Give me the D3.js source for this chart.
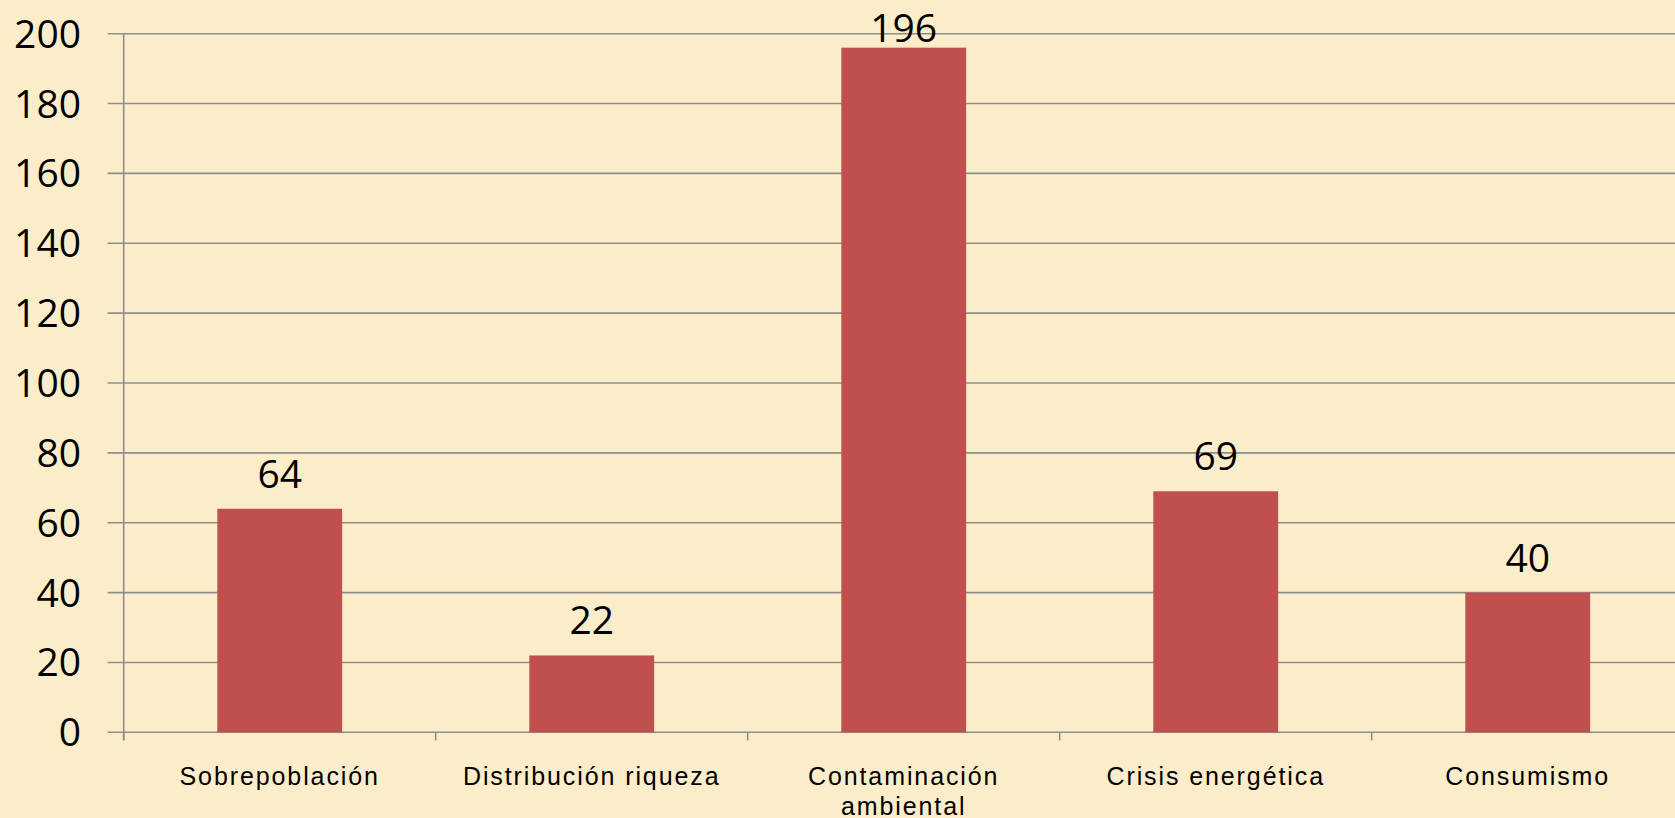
<!DOCTYPE html>
<html>
<head>
<meta charset="utf-8">
<script src="https://cdn.jsdelivr.net/npm/d3@7"></script>
<style>
  html, body { margin: 0; padding: 0; background: #fcedca; }
  svg { display: block; }
  .ytick { font-family: "Open Sans", sans-serif; font-size: 39px; fill: #000; }
  .vlabel { font-family: "Open Sans", sans-serif; font-size: 39px; fill: #000; }
  .xlabel { font-family: "Liberation Sans", Arial, sans-serif; font-size: 25px; letter-spacing: 1.9px; fill: #000; }
</style>
</head>
<body>
<svg id="chart" width="1675" height="818"></svg>
<script>
// chart values
const categories = ["Sobrepoblación", "Distribución riqueza", "Contaminación ambiental", "Crisis energética", "Consumismo"]
const values = [64, 22, 196, 69, 40]
const yTicks = [0, 20, 40, 60, 80, 100, 120, 140, 160, 180, 200]

const W = 1675, H = 818
const plotLeft = 123.7, plotBottom = 732.3, plotTop = 33.7
const step = 312

const svg = d3.select("#chart")

svg.append("rect").attr("width", W).attr("height", H).attr("fill", "#fcedca")

// scales
const xScale = d3.scaleBand().domain(categories)
    .range([plotLeft, plotLeft + step * categories.length])
    .paddingInner(0.6).paddingOuter(0.3)
const yScale = d3.scaleLinear().domain([0, 200]).range([plotBottom, plotTop])

// gridlines + y labels
svg.append("g").selectAll("line").data(yTicks).join("line")
    .attr("x1", plotLeft - 16).attr("x2", W)
    .attr("y1", d => yScale(d)).attr("y2", d => yScale(d))
    .attr("stroke", "#8e8e8e").attr("stroke-width", 1.6)

svg.append("g").selectAll("text").data(yTicks).join("text")
    .attr("class", "ytick")
    .attr("x", 81).attr("y", d => yScale(d))
    .attr("dy", "0.36em")
    .attr("text-anchor", "end")
    .text(d => d)

// bars
svg.append("g").selectAll("rect").data(values).join("rect")
    .attr("x", (d, i) => xScale(categories[i]))
    .attr("width", xScale.bandwidth())
    .attr("y", d => yScale(d))
    .attr("height", d => yScale(0) - yScale(d))
    .attr("fill", "#c0504d")

// value labels (pushed inside the plot if they would go above it)
svg.append("g").selectAll("text").data(values).join("text")
    .attr("class", "vlabel")
    .attr("x", (d, i) => xScale(categories[i]) + xScale.bandwidth() / 2)
    .attr("y", d => Math.max(yScale(d) - 21, 42))
    .attr("text-anchor", "middle")
    .text(d => d)

// y axis line
svg.append("line")
    .attr("x1", plotLeft).attr("x2", plotLeft)
    .attr("y1", plotTop).attr("y2", plotBottom + 8)
    .attr("stroke", "#8e8e8e").attr("stroke-width", 1.6)

// category boundary ticks
const bounds = d3.range(categories.length + 1).map(i => plotLeft + i * xScale.step())
svg.append("g").selectAll("line").data(bounds).join("line")
    .attr("x1", d => d).attr("x2", d => d)
    .attr("y1", plotBottom).attr("y2", plotBottom + 8)
    .attr("stroke", "#8e8e8e").attr("stroke-width", 1.6)

// x labels, wrapped when wider than the slot
const xl = svg.append("g").selectAll("text").data(categories).join("text")
    .attr("class", "xlabel")
    .attr("x", d => xScale(d) + xScale.bandwidth() / 2)
    .attr("y", 785)
    .attr("text-anchor", "middle")

xl.each(function(d) {
    const t = d3.select(this)
    const words = d.split(" ")
    let line = []
    let ts = t.append("tspan").attr("x", t.attr("x")).attr("dy", 0)
    words.forEach(w => {
        line.push(w)
        ts.text(line.join(" "))
        if (ts.node().getComputedTextLength() > 300 && line.length > 1) {
            line.pop()
            ts.text(line.join(" "))
            line = [w]
            ts = t.append("tspan").attr("x", t.attr("x")).attr("dy", 30).text(w)
        }
    })
})
</script>
</body>
</html>
